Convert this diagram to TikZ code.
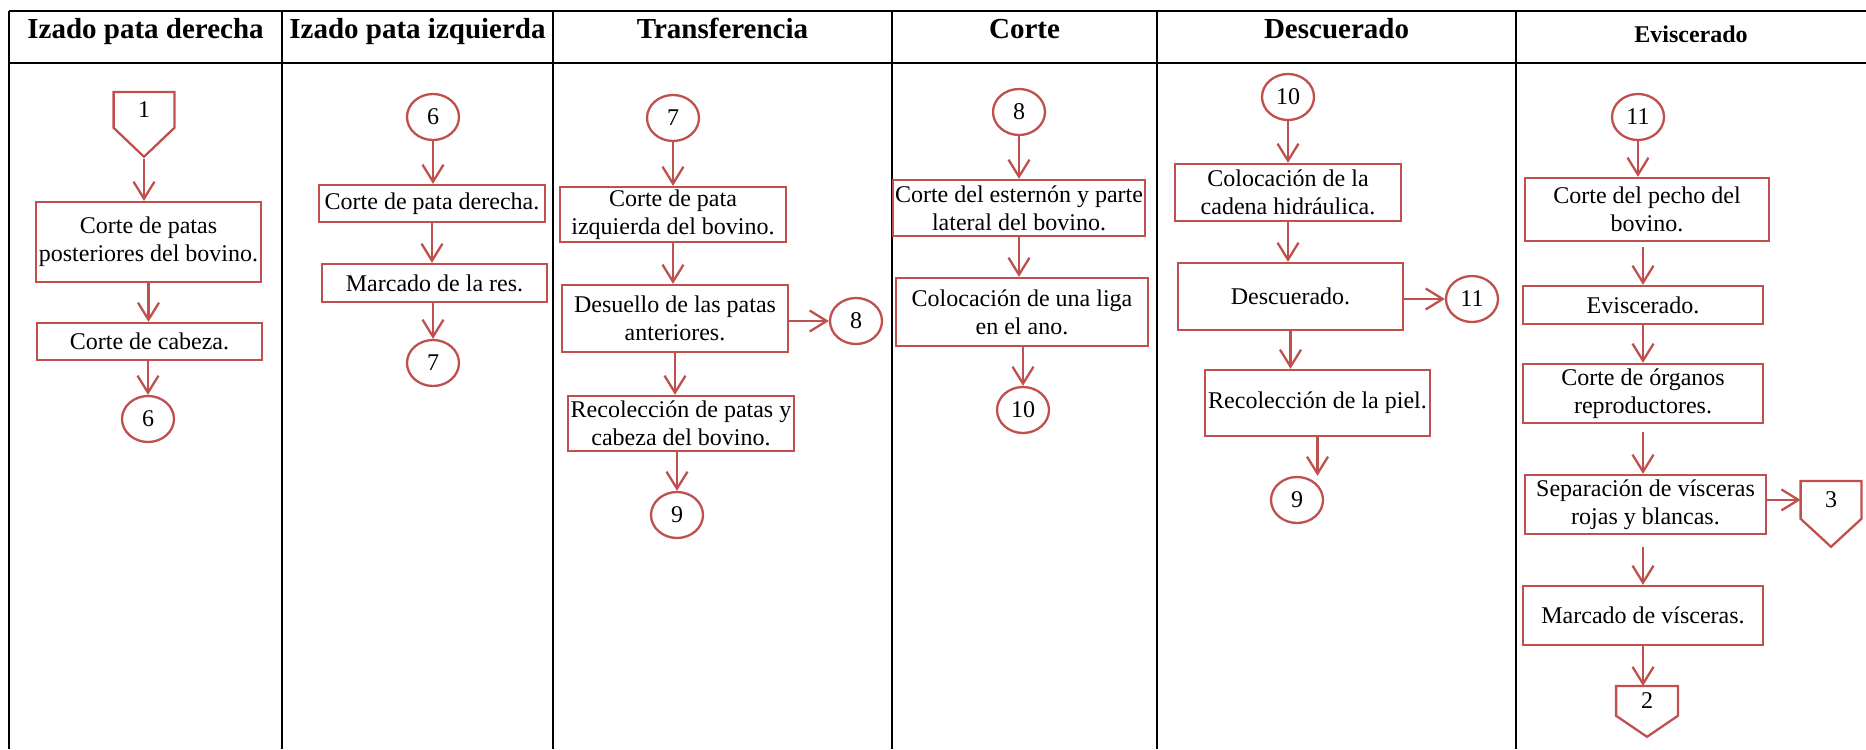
\documentclass[tikz,border=0pt]{standalone}
\usepackage{fontspec}
\setmainfont{Liberation Serif}
\usetikzlibrary{arrows.meta,shapes.geometric,calc}
\definecolor{flowred}{RGB}{192,80,77}

% off-page connector: square part is the node, the point hangs below it
% #1 name, #2 centre x, #3 top y, #4 width, #5 height of square part, #6 depth of point, #7 label
\newcommand{\offpage}[7]{%
  \node[inner sep=0pt, sz={#4}{#5}, anchor=north] (#1) at (#2,#3) {#7};
  \coordinate (#1-tip) at ([yshift={-#6*0.5pt}]#1.south);
  \draw[outline] (#1.south west) -- (#1.north west) -- (#1.north east)
    -- (#1.south east) -- (#1-tip) -- cycle;
}

\begin{document}
\begin{tikzpicture}[x=0.5pt,y=-0.5pt,
  every node/.style={font=\fontsize{12pt}{14pt}\selectfont, text=black},
  sz/.style 2 args={minimum width={#1*0.5pt}, minimum height={#2*0.5pt}},
  outline/.style={draw=flowred, line width=1.15pt, line join=miter},
  box/.style={draw=flowred, line width=1.15pt, align=center, inner sep=1pt},
  conn/.style={draw=flowred, line width=1.15pt, ellipse, inner sep=0pt,
    minimum width=26pt, minimum height=23pt},
  arr/.style={draw=flowred, line width=1.15pt,
    -{Straight Barb[length=8.5pt,width=10.5pt]}},
  grid/.style={draw=black, line width=1.1pt},
  head/.style={font=\fontsize{14.5pt}{17pt}\selectfont\bfseries, anchor=base},
]
\useasboundingbox (0,0) rectangle (1866,749);

% table frame
\draw[grid] (9,11) -- (1866,11);
\draw[grid] (9,63) -- (1866,63);
\foreach \cx in {9,282,553,892,1157,1516}
  \draw[grid] (\cx,11) -- (\cx,749);

% column headings
\node[head] (h1) at (145.5,39) {Izado pata derecha};
\node[head] (h2) at (417.5,39) {Izado pata izquierda};
\node[head] (h3) at (722.5,39) {Transferencia};
\node[head] (h4) at (1024.5,39) {Corte};
\node[head] (h5) at (1336.5,39) {Descuerado};
\node[head, font=\fontsize{12pt}{14pt}\selectfont\bfseries] (h6) at (1691,43) {Eviscerado};

% --- Izado pata derecha
\offpage{p1}{144}{92}{60}{35}{29}{1}
\node[box, sz={225}{80}] (c1a) at (148.5,242) {Corte de patas\\posteriores del bovino.};
\node[box, sz={225}{37}] (c1b) at (149.5,341.5) {Corte de cabeza.};
\node[conn] (c1c) at (148,419) {6};
\draw[arr, shorten <=1pt] (p1-tip) -- (p1-tip |- c1a.north);
\draw[arr] (c1a.south) -- (c1a.south |- c1b.north);
\draw[arr] (c1b.south -| c1c) -- (c1c);

% --- Izado pata izquierda
\node[conn] (c2a) at (433,117) {6};
\node[box, sz={226}{37}] (c2b) at (432,203.5) {Corte de pata derecha.};
\node[box, sz={225}{38}] (c2c) at (434.5,283) {Marcado de la res.};
\node[conn] (c2d) at (433,363) {7};
\draw[arr] (c2a) -- (c2a |- c2b.north);
\draw[arr] (c2b.south) -- (c2b.south |- c2c.north);
\draw[arr] (c2c.south -| c2d) -- (c2d);

% --- Transferencia
\node[conn] (c3a) at (673,118) {7};
\node[box, sz={226}{55}] (c3b) at (673,214.5) {Corte de pata\\izquierda del bovino.};
\node[box, sz={226}{67}] (c3c) at (675,318.5) {Desuello de las patas\\anteriores.};
\node[conn] (c3d) at (856,321) {8};
\node[box, sz={226}{55}] (c3e) at (681,423.5) {Recolección de patas y\\cabeza del bovino.};
\node[conn] (c3f) at (677,515) {9};
\draw[arr] (c3a) -- (c3a |- c3b.north);
\draw[arr] (c3b.south) -- (c3b.south |- c3c.north);
\draw[arr] (c3c.east |- c3d) -- (c3d);
\draw[arr] (c3c.south) -- (c3c.south |- c3e.north);
\draw[arr] (c3e.south -| c3f) -- (c3f);

% --- Corte
\node[conn] (c4a) at (1019,112) {8};
\node[box, sz={252}{56}] (c4b) at (1019,208) {Corte del esternón y parte\\lateral del bovino.};
\node[box, sz={252}{68}] (c4c) at (1022,312) {Colocación de una liga\\en el ano.};
\node[conn] (c4d) at (1023,410) {10};
\draw[arr] (c4a) -- (c4a |- c4b.north);
\draw[arr] (c4b.south) -- (c4b.south |- c4c.north);
\draw[arr] (c4c.south -| c4d) -- (c4d);

% --- Descuerado
\node[conn] (c5a) at (1288,97) {10};
\node[box, sz={226}{57}] (c5b) at (1288,192.5) {Colocación de la\\cadena hidráulica.};
\node[box, sz={225}{67}] (c5c) at (1290.5,296.5) {Descuerado.};
\node[conn] (c5d) at (1472,299) {11};
\node[box, sz={225}{66}] (c5e) at (1317.5,403) {Recolección de la piel.};
\node[conn] (c5f) at (1297,500) {9};
\draw[arr] (c5a) -- (c5a |- c5b.north);
\draw[arr] (c5b.south) -- (c5b.south |- c5c.north);
\draw[arr] (c5c.east |- c5d) -- (c5d);
\draw[arr] (c5c.south) -- (c5c.south |- c5e.north);
\draw[arr] (c5e.south) -- (c5e.south |- c5f.north);

% --- Eviscerado
\node[conn] (c6a) at (1638,117) {11};
\node[box, sz={244}{63}] (c6b) at (1647,209.5) {Corte del pecho del\\bovino.};
\node[box, sz={240}{38}] (c6c) at (1643,305) {Eviscerado.};
\node[box, sz={240}{59}] (c6d) at (1643,393.5) {Corte de órganos\\reproductores.};
\node[box, sz={241}{59}] (c6e) at (1645.5,504.5) {Separación de vísceras\\rojas y blancas.};
\offpage{c6f}{1831}{481}{60}{37}{28}{3}
\node[box, sz={240}{59}] (c6g) at (1643,615.5) {Marcado de vísceras.};
\offpage{c6h}{1647}{686}{61}{29}{21}{2}
\draw[arr] (c6a) -- (c6a |- c6b.north);
\draw[arr, shorten <=2.5pt] (c6b.south -| c6c) -- (c6c.north);
\draw[arr] (c6c.south) -- (c6d.north);
\draw[arr, shorten <=4pt] (c6d.south) -- (c6d.south |- c6e.north);
\draw[arr] (c6e.east |- c6f) -- (c6f.west);
\draw[arr, shorten <=6pt] (c6e.south -| c6g) -- (c6g.north);
\draw[arr] (c6g.south) -- (c6g.south |- c6h.north);
\end{tikzpicture}
\end{document}
